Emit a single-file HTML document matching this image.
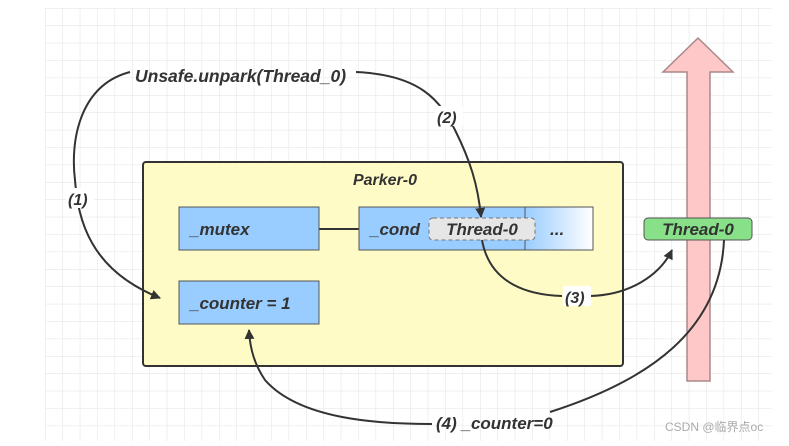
<!DOCTYPE html>
<html><head><style>
body{margin:0;background:#fff}
svg text{font-family:"Liberation Sans",sans-serif;font-style:italic;font-weight:bold;fill:#333}
</style></head><body>
<svg width="789" height="441" xmlns="http://www.w3.org/2000/svg">
<defs>
<pattern id="g" width="17.4" height="17.4" patternUnits="userSpaceOnUse" x="45" y="8">
<path d="M0 0H17.4M0 0V17.4" stroke="#e2e2e2" stroke-width="1" fill="none"/>
</pattern>
<linearGradient id="lg" x1="0" x2="1"><stop offset="0" stop-color="#99ccff"/><stop offset="1" stop-color="#fff"/></linearGradient>
<marker id="a" markerWidth="10" markerHeight="10" refX="9" refY="5" orient="auto" markerUnits="userSpaceOnUse"><path d="M0 0L10 5L0 10z" fill="#333"/></marker>
</defs>
<rect x="45" y="8" width="727" height="433" fill="url(#g)"/>
<rect x="143" y="162" width="480" height="204" rx="3" fill="#fffbc6" stroke="#333" stroke-width="2"/>
<text x="385" y="185" font-size="16" text-anchor="middle">Parker-0</text>
<line x1="319" y1="229" x2="359" y2="229" stroke="#333" stroke-width="2"/>
<rect x="179" y="207" width="140" height="43" fill="#99ccff" stroke="#555"/>
<text x="190" y="235" font-size="17">_mutex</text>
<rect x="525" y="207" width="68" height="43" fill="url(#lg)" stroke="#555"/>
<rect x="359" y="207" width="166" height="43" fill="#99ccff" stroke="#555"/>
<text x="370" y="235" font-size="17">_cond</text>
<rect x="429" y="218" width="106" height="22" rx="4" fill="#e6e6e6" stroke="#777" stroke-dasharray="4,3"/>
<text x="482" y="235" font-size="17" text-anchor="middle">Thread-0</text>
<text x="550" y="235" font-size="17">...</text>
<rect x="179" y="281" width="140" height="43" fill="#99ccff" stroke="#555"/>
<text x="190" y="309" font-size="17">_counter = 1</text>
<path d="M698 38L733 72H710V381H687V72H663z" fill="#ffc8c8" stroke="#a88" stroke-width="1.5"/>
<rect x="644" y="218" width="108" height="22" rx="4" fill="#88e088" stroke="#555"/>
<text x="698" y="235" font-size="17" text-anchor="middle">Thread-0</text>
<text x="135" y="82" font-size="17.5">Unsafe.unpark(Thread_0)</text>
<g fill="none" stroke="#333" stroke-width="2">
<path d="M130 72C80 85 70 140 75 180C78 220 90 270 160 298" marker-end="url(#a)"/>
<path d="M356 72C420 75 440 100 455 130C470 160 478 185 481 217" marker-end="url(#a)"/>
<path d="M482 240C490 285 530 295 562 296M590 296C630 295 660 275 672 250" marker-end="url(#a)"/>
<path d="M724 240C720 330 650 380 550 412"/>
<path d="M432 424C380 424 300 420 265 380C255 365 250 350 249 330" marker-end="url(#a)"/>
</g>
<rect x="66" y="188" width="28" height="20" fill="#fff"/>
<text x="68" y="205" font-size="16">(1)</text>
<rect x="435" y="106" width="28" height="20" fill="#fff"/>
<text x="437" y="123" font-size="16">(2)</text>
<rect x="563" y="286" width="28" height="20" fill="#fff"/>
<text x="565" y="303" font-size="16">(3)</text>
<text x="436" y="429" font-size="17">(4) _counter=0</text>
<text x="665" y="431" font-size="12" style="font-style:normal;font-weight:normal;fill:#aaa;font-family:'Liberation Sans','Noto Sans CJK SC',sans-serif">CSDN @临界点oc</text>
</svg>
</body></html>
